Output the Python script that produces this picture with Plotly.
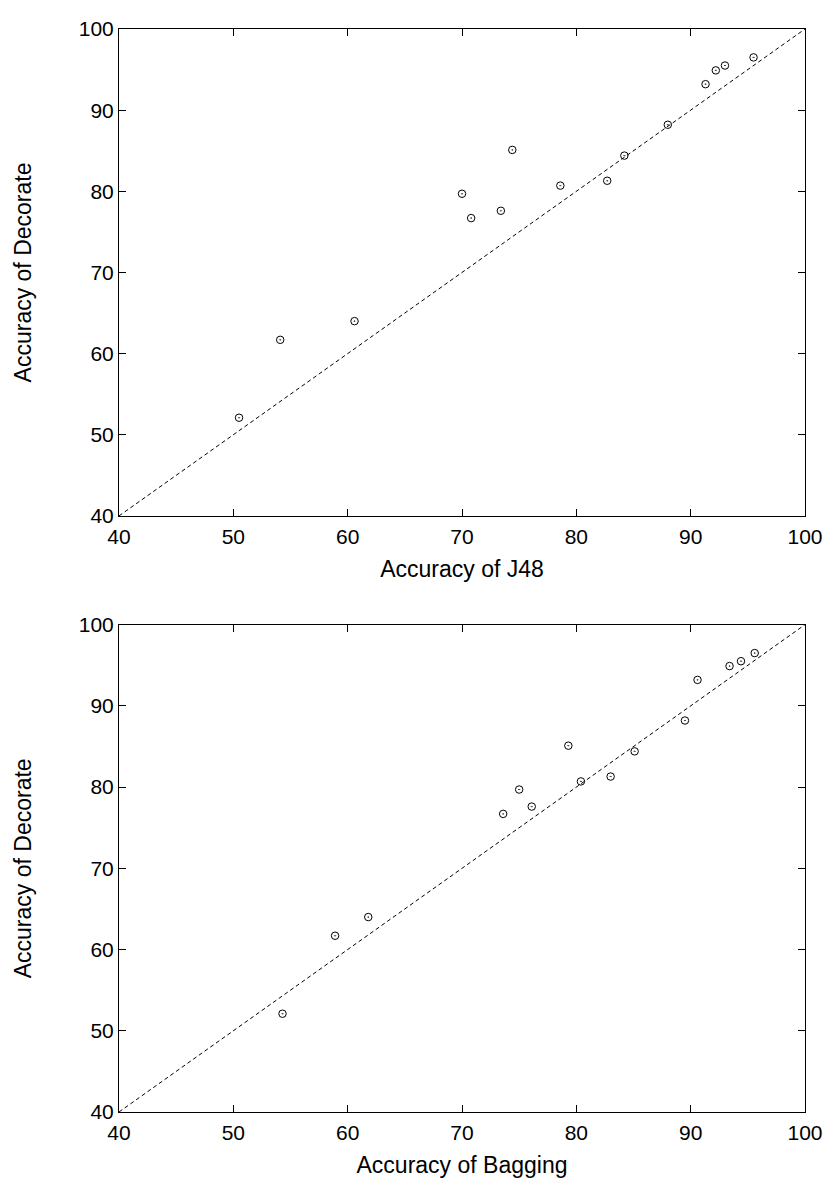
import plotly.graph_objects as go

# Accuracy values (%) for 15 datasets
decorate = [52.1, 61.7, 64.0, 76.7, 77.6, 79.7, 80.7, 81.3, 84.4, 85.1, 88.2, 93.2, 94.9, 95.5, 96.5]
j48      = [50.5, 54.1, 60.6, 70.8, 73.4, 70.0, 78.6, 82.7, 84.2, 74.4, 88.0, 91.3, 92.2, 93.0, 95.5]
bagging  = [54.3, 58.9, 61.8, 73.6, 76.1, 75.0, 80.4, 83.0, 85.1, 79.3, 89.5, 90.6, 93.4, 94.4, 95.6]

axis_range = [40, 100]
tick_vals = [40, 50, 60, 70, 80, 90, 100]
diag = [40, 100]

FONT = "Liberation Sans, Arial, sans-serif"

fig = go.Figure()

panels = [("x", "y", j48), ("x2", "y2", bagging)]
for xa, ya, xs in panels:
    fig.add_trace(go.Scatter(x=diag, y=diag, mode="lines", xaxis=xa, yaxis=ya,
                             line=dict(color="black", width=1, dash="4px,3px"),
                             hoverinfo="skip", showlegend=False))
    fig.add_trace(go.Scatter(x=xs, y=decorate, mode="markers", xaxis=xa, yaxis=ya,
                             marker=dict(symbol="circle-open-dot", size=7.5, color="black",
                                         line=dict(color="black", width=1)),
                             showlegend=False))

common = dict(range=axis_range, tickvals=tick_vals, ticks="inside", ticklen=7,
              tickcolor="black", tickwidth=1, showline=True, linecolor="black",
              linewidth=1, mirror="allticks", showgrid=False, zeroline=False,
              tickfont=dict(family=FONT, size=21, color="black"))

xtitle_font = dict(family=FONT, size=23, color="black")

fig.update_layout(
    width=827, height=1182,
    margin=dict(l=111, r=30, t=9, b=78),
    plot_bgcolor="white", paper_bgcolor="white",
    font=dict(family=FONT, color="black"),
    xaxis=dict(domain=[0, 1], anchor="y", ticklabelstandoff=2, **common,
               title=dict(text="Accuracy of J48", font=xtitle_font, standoff=13)),
    yaxis=dict(domain=[0.5504, 1.0], anchor="x", **common,
               title=dict(text="Accuracy of Decorate", font=xtitle_font, standoff=40)),
    xaxis2=dict(domain=[0, 1], anchor="y2", ticklabelstandoff=2, **common,
                title=dict(text="Accuracy of Bagging", font=xtitle_font, standoff=13)),
    yaxis2=dict(domain=[0.0, 0.45], anchor="x2", **common,
                title=dict(text="Accuracy of Decorate", font=xtitle_font, standoff=40)),
)

fig.write_html("out.html")
